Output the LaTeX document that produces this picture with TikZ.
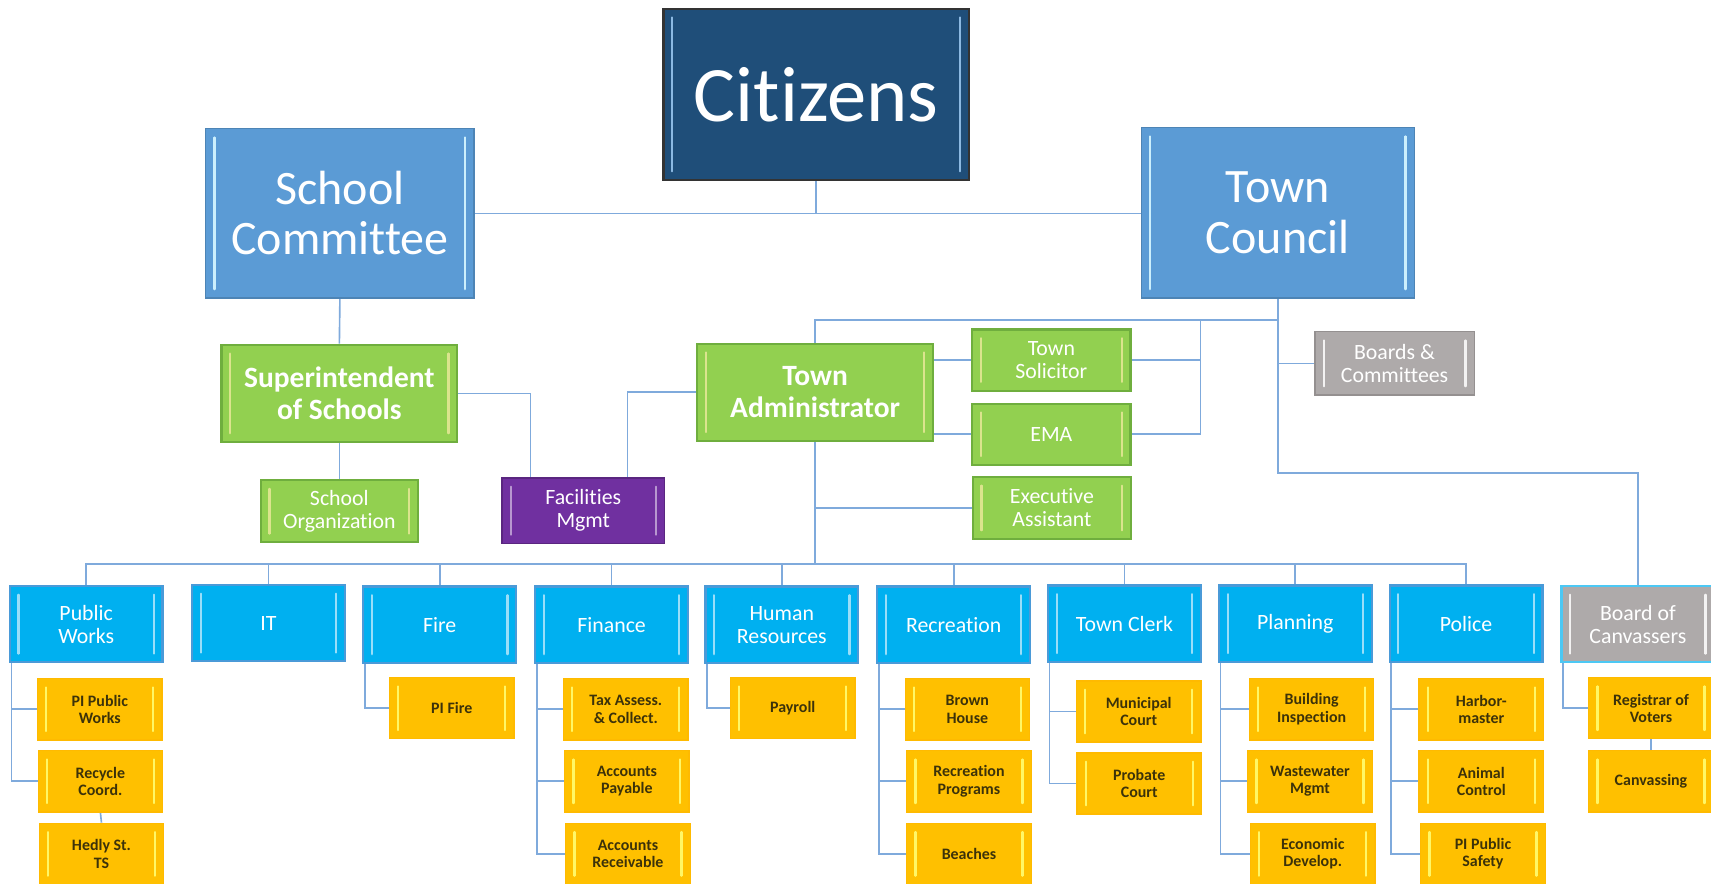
\documentclass[tikz,border=0pt]{standalone}
\usepackage{fontspec}
\setmainfont{Carlito}[Ligatures=NoCommon]
\usetikzlibrary{calc,backgrounds}

\definecolor{citfill}{HTML}{1F4E79}
\definecolor{topfill}{HTML}{5B9BD5}
\definecolor{grnfill}{HTML}{92D050}
\definecolor{grnline}{HTML}{6FAE3E}
\definecolor{purfill}{HTML}{7030A0}
\definecolor{gryfill}{HTML}{AEAAAA}
\definecolor{bluefill}{HTML}{00B0F0}
\definecolor{blueline}{HTML}{4A9AD8}
\definecolor{yelfill}{HTML}{FFC000}
\definecolor{yeltext}{HTML}{3C320A}
\definecolor{conn}{HTML}{7FAADC}

\tikzset{
  x=0.5pt, y=-0.5pt,
  sz/.style 2 args={minimum width=#1*0.5pt, minimum height=#2*0.5pt},
  bevel/.style={path picture={
    \draw[#1, line width=1pt, line cap=round]
      ([xshift=4pt,yshift=-4pt]path picture bounding box.north west) -- ([xshift=4pt,yshift=4pt]path picture bounding box.south west);
    \draw[#1, line width=1pt, line cap=round]
      ([xshift=-4pt,yshift=-4pt]path picture bounding box.north east) -- ([xshift=-4pt,yshift=4pt]path picture bounding box.south east);
  }},
  box/.style={rectangle, inner sep=1pt, align=center, text=white, line width=0.6pt},
  citbox/.style={box, fill=citfill, draw=black!80, line width=1pt, bevel=topfill!70!white, font=\fontsize{36}{40}\selectfont},
  topbox/.style={box, fill=topfill, draw=topfill!85!black, bevel=cyan!20!white, font=\fontsize{22}{23}\selectfont},
  grnbig/.style={box, fill=grnfill, draw=grnline, line width=1pt, bevel=yellow!40!grnfill!60!white, font=\fontsize{13.5}{14.5}\selectfont\bfseries},
  grnsm/.style={box, fill=grnfill, draw=grnline, line width=1pt, bevel=yellow!40!grnfill!60!white, font=\fontsize{10}{10.5}\selectfont},
  purbox/.style={box, fill=purfill, draw=purfill!80!black, bevel=purfill!50!white, font=\fontsize{10}{10.5}\selectfont},
  grybox/.style={box, fill=gryfill, draw=gryfill!85!black, bevel=white!85!gryfill, font=\fontsize{10}{10.5}\selectfont},
  bluebox/.style={box, fill=bluefill, draw=blueline, line width=1pt, bevel=cyan!40!white, sz={140}{70}, font=\fontsize{10}{10.5}\selectfont},
  bocbox/.style={box, fill=gryfill, draw=bluefill!70!white, line width=1pt, bevel=white!85!gryfill, sz={140}{70}, font=\fontsize{10}{10.5}\selectfont},
  yelbox/.style={box, fill=yelfill, draw=yelfill!90!orange, text=yeltext, bevel=yellow!60!white, sz={114}{56}, font=\fontsize{7.3}{8}\selectfont\bfseries},
  link/.style={draw=conn, line width=0.75pt}
}

\begin{document}
\begin{tikzpicture}
\useasboundingbox (0,0) rectangle (1568,810);

% top levels
\node[citbox, sz={280}{157}] (cit) at (748,86.5) {Citizens};
\node[topbox, sz={246}{155}] (sc) at (311.5,195.5) {School\\Committee};
\node[topbox, sz={250}{156}] (tc) at (1171,195) {Town\\Council};

\node[grnbig, sz={216}{89}] (supt) at (311,360.5) {Superintendent\\of Schools};
\node[grnbig, sz={216}{89}] (ta) at (747,359.5) {Town\\Administrator};
\node[grnsm, sz={144}{57}] (sorg) at (311,468.5) {School\\Organization};
\node[purbox, sz={149}{60}] (fac) at (534.5,468) {Facilities\\Mgmt};
\node[grnsm, sz={145}{56}] (ts) at (963.5,330) {Town\\Solicitor};
\node[grnsm, sz={145}{56}] (ema) at (963.5,398) {EMA};
\node[grnsm, sz={145}{57}] (ea) at (964,465.5) {Executive\\Assistant};
\node[grybox, sz={146}{58}] (bc) at (1278,333) {Boards \&\\Committees};

% departments
\node[bluebox] (pw)   at (79,572)     {Public\\Works};
\node[bluebox] (it)   at (246,571)    {IT};
\node[bluebox] (fire) at (403,572.5)  {Fire};
\node[bluebox] (fin)  at (560.5,572.5){Finance};
\node[bluebox] (hr)   at (716.5,572.5){Human\\Resources};
\node[bluebox] (rec)  at (874,572.5)  {Recreation};
\node[bluebox] (tclk) at (1030.5,571.5){Town Clerk};
\node[bluebox] (plan) at (1187,571.5) {Planning};
\node[bluebox] (pol)  at (1343.5,571.5){Police};
\node[bocbox]  (boc)  at (1501,572)   {Board of\\Canvassers};

% sub units
\node[yelbox] (pwa) at (91.5,650)  {PI Public\\Works};
\node[yelbox] (pwb) at (92,716)    {Recycle\\Coord.};
\node[yelbox] (pwc) at (93,782.5)  {Hedly St.\\TS};
\node[yelbox] (fira) at (414,649)  {PI Fire};
\node[yelbox] (fina) at (573.5,650) {Tax Assess.\\\& Collect.};
\node[yelbox] (finb) at (574.5,716) {Accounts\\Payable};
\node[yelbox] (finc) at (575.5,782.5) {Accounts\\Receivable};
\node[yelbox] (hra) at (726.5,649) {Payroll};
\node[yelbox] (reca) at (886.5,650) {Brown\\House};
\node[yelbox] (recb) at (888,716) {Recreation\\Programs};
\node[yelbox] (recc) at (888,782.5) {Beaches};
\node[yelbox] (tca) at (1043.5,652) {Municipal\\Court};
\node[yelbox] (tcb) at (1044,718) {Probate\\Court};
\node[yelbox] (pla) at (1202,650) {Building\\Inspection};
\node[yelbox] (plb) at (1200.5,716) {Wastewater\\Mgmt};
\node[yelbox] (plc) at (1203,782.5) {Economic\\Develop.};
\node[yelbox] (pola) at (1357.5,650) {Harbor-\\master};
\node[yelbox] (polb) at (1357.5,716) {Animal\\Control};
\node[yelbox] (polc) at (1359,782.5) {PI Public\\Safety};
\node[yelbox] (boca) at (1513,649) {Registrar of\\Voters};
\node[yelbox] (bocb) at (1513,716) {Canvassing};

\coordinate (busy) at (0,517);
\coordinate (tcbus) at (1100,293);

\begin{scope}[on background layer]
  % top
  \draw[link] (sc.east) -- (sc.east -| tc.west);
  \draw[link] (cit.south) -- (cit.south |- sc.east);
  \draw[link] (sc.south) -- (supt.north);
  \draw[link] (supt.south) -- (sorg.north);
  \draw[link] (supt.east) -| ($(fac.north)+(-48.5,0)$);
  \draw[link] (ta.west) -| ($(fac.north)+(40.5,0)$);
  % town council
  \draw[link] (tc.south) -- (tc.south |- tcbus) -| (ta.north);
  \draw[link] (ts.east) -| (tcbus);
  \draw[link] (ema.east) -| (tcbus);
  \draw[link] (ts.west) -- (ts.west -| ta.east);
  \draw[link] (ema.west) -- (ema.west -| ta.east);
  \draw[link] (tc.south) -- ++(0,160) -| (boc.north);
  \draw[link] (bc.west) -- (bc.west -| tc.south);
  % administrator bus
  \draw[link] (ta.south) -- (ta.south |- busy);
  \draw[link] (ea.west) -- (ea.west -| ta.south);
  \draw[link] (pw.north) -- (pw.north |- busy) -| (pol.north);
  \foreach \n in {it,fire,fin,hr,rec,tclk,plan} \draw[link] (\n.north) -- (\n.north |- busy);
  % sub units
  \foreach \p/\c in {pw/pwa,pw/pwb,fire/fira,fin/fina,fin/finb,fin/finc,hr/hra,rec/reca,rec/recb,rec/recc,tclk/tca,tclk/tcb,plan/pla,plan/plb,plan/plc,pol/pola,pol/polb,pol/polc,boc/boca}
    \draw[link] ([xshift=1.2pt]\p.south west) |- (\c.west);
  \draw[link] (pwb.south) -- (pwc.north);
  \draw[link] (boca.south) -- (bocb.north);
\end{scope}
\end{tikzpicture}
\end{document}
